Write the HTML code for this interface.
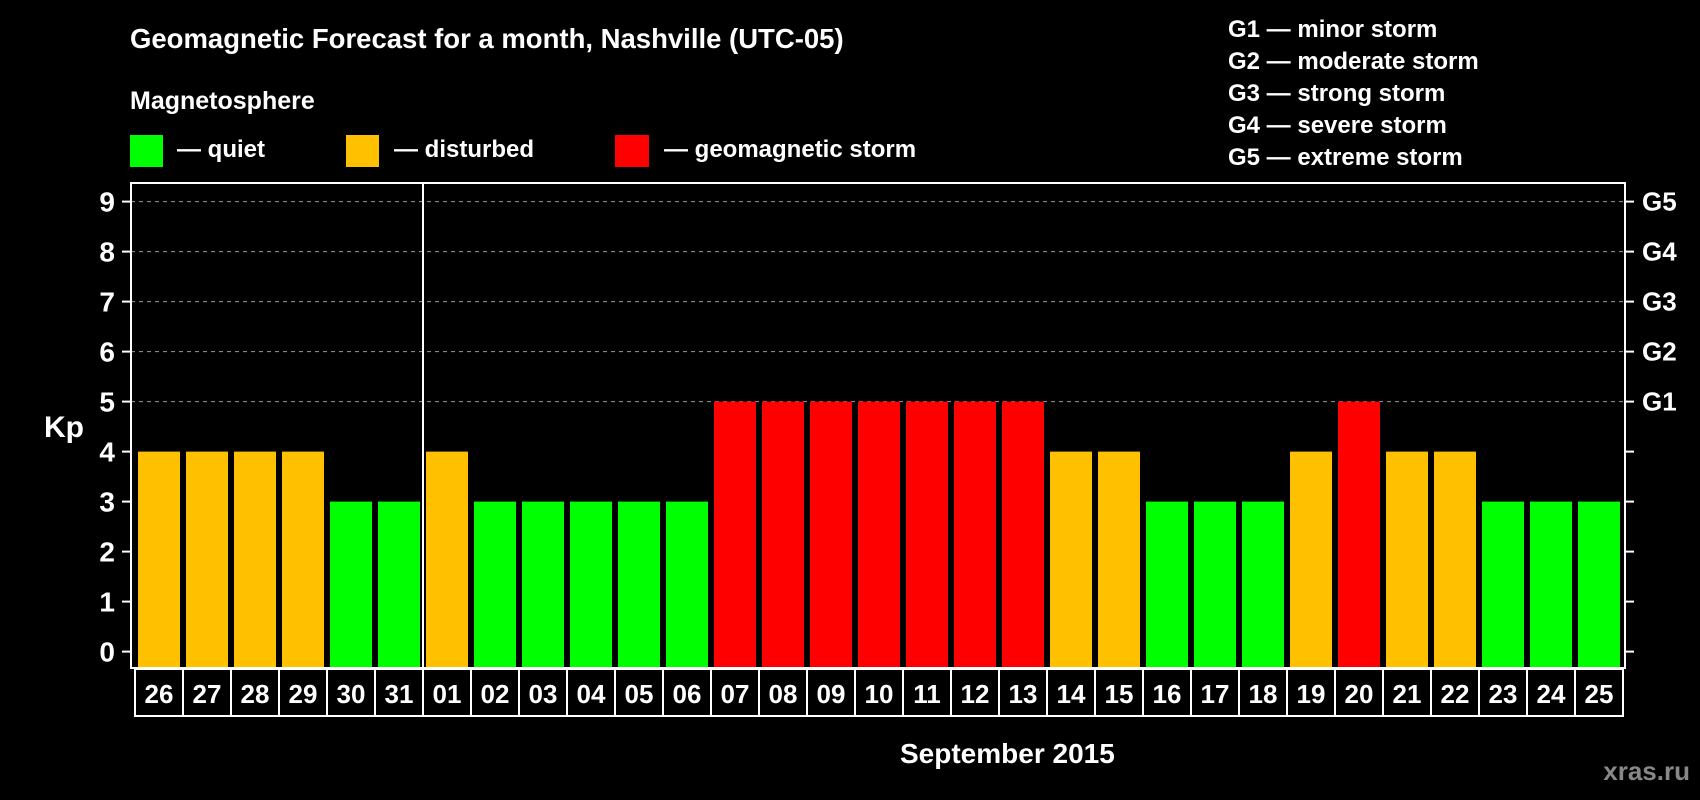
<!DOCTYPE html>
<html><head><meta charset="utf-8"><style>
html,body{margin:0;padding:0;background:#000;}
svg{display:block;font-family:"Liberation Sans",Arial,sans-serif;font-weight:bold;}
</style></head><body>
<svg id="chart" width="1700" height="800" viewBox="0 0 1700 800">
<rect x="0" y="0" width="1700" height="800" fill="#000"/>
<text x="130" y="48" font-size="27.5" fill="#fff">Geomagnetic Forecast for a month, Nashville (UTC-05)</text>
<text x="130" y="109" font-size="25" fill="#fff">Magnetosphere</text>
<g>
<rect x="130" y="135" width="33" height="32" fill="#00ff00"/>
<text x="177" y="157" font-size="24" fill="#fff">— quiet</text>
<rect x="346" y="135" width="33" height="32" fill="#ffc000"/>
<text x="394" y="157" font-size="24" fill="#fff">— disturbed</text>
<rect x="615" y="135" width="34" height="32" fill="#ff0000"/>
<text x="664" y="157" font-size="24" fill="#fff">— geomagnetic storm</text>
</g>
<g font-size="24" fill="#fff">
<text x="1228" y="37">G1 — minor storm</text>
<text x="1228" y="69">G2 — moderate storm</text>
<text x="1228" y="101">G3 — strong storm</text>
<text x="1228" y="133">G4 — severe storm</text>
<text x="1228" y="165">G5 — extreme storm</text>
</g>
<text x="44" y="437" font-size="30" fill="#fff">Kp</text>
<text x="900" y="763" font-size="28" fill="#fff">September 2015</text>
<text x="1690" y="780" font-size="26" fill="#888" text-anchor="end">xras.ru</text>
<g id="grid"></g><g id="bars"></g><g id="axes"></g>
</svg>
<script>
const days = ["26","27","28","29","30","31","01","02","03","04","05","06","07","08","09","10","11","12","13","14","15","16","17","18","19","20","21","22","23","24","25"];
const kpValues = [4,4,4,4,3,3,4,3,3,3,3,3,5,5,5,5,5,5,5,4,4,3,3,3,4,5,4,4,3,3,3];
const yTicks = [0,1,2,3,4,5,6,7,8,9];
const gLabels = ["G1","G2","G3","G4","G5"];
const gLevels = [5,6,7,8,9];

const NS = "http://www.w3.org/2000/svg";
const plotL = 131, plotR = 1625, plotT = 183, plotB = 668;
const boxL = 135, boxW = 48, boxB = 716;
function y(v){ return 651.6 - 50 * v; }
function xBar(i){ return 138 + 48 * i; }
function color(v){ return v >= 5 ? "#ff0000" : (v >= 4 ? "#ffc000" : "#00ff00"); }
function mk(tag, attrs, parent){ const e = document.createElementNS(NS, tag); for (const k in attrs) e.setAttribute(k, attrs[k]); parent.appendChild(e); return e; }
const grid = document.getElementById("grid"), bars = document.getElementById("bars"), axes = document.getElementById("axes");

gLevels.forEach((lv, i) => {
  const l = mk("line", {x1: plotL, x2: plotR, y1: y(lv), y2: y(lv), stroke: "#999", "stroke-width": 1, "stroke-dasharray": "4,4"}, grid);
  
  
  const t = mk("text", {x: 1642, y: y(lv) + 9, "font-size": 26, fill: "#fff"}, axes);
  t.textContent = gLabels[i];
  
  
});

kpValues.forEach((v, i) => {
  const r = mk("rect", {x: xBar(i), y: y(v), width: 42, height: plotB - y(v), fill: color(v)}, bars);
  
  
});

yTicks.forEach(v => {
  const tk = mk("line", {x1: 122, x2: plotL, y1: y(v), y2: y(v), stroke: "#fff", "stroke-width": 2}, axes);
  
  
  const tr = mk("line", {x1: plotR, x2: 1634, y1: y(v), y2: y(v), stroke: "#fff", "stroke-width": 2}, axes);
  
  
  const t = mk("text", {x: 115, y: y(v) + 10, "font-size": 28, fill: "#fff", "text-anchor": "end"}, axes);
  t.textContent = v;
  
  
});

const frame = mk("rect", {x: plotL, y: plotT, width: plotR - plotL, height: plotB - plotT, fill: "none", stroke: "#fff", "stroke-width": 2}, axes);



days.forEach((d, i) => {
  const b = mk("rect", {x: boxL + boxW * i, y: plotB + 1, width: boxW, height: boxB - plotB - 1, fill: "#000", stroke: "#fff", "stroke-width": 2}, axes);
  
  
  const t = mk("text", {x: boxL + boxW * i + boxW / 2, y: 703, "font-size": 26, fill: "#fff", "text-anchor": "middle"}, axes);
  t.textContent = d;
  
  
});

const sepIdx = days.indexOf("01");
const sep = mk("line", {x1: boxL + boxW * sepIdx, x2: boxL + boxW * sepIdx, y1: plotT, y2: boxB, stroke: "#fff", "stroke-width": 2}, axes);


</script>
</body></html>
